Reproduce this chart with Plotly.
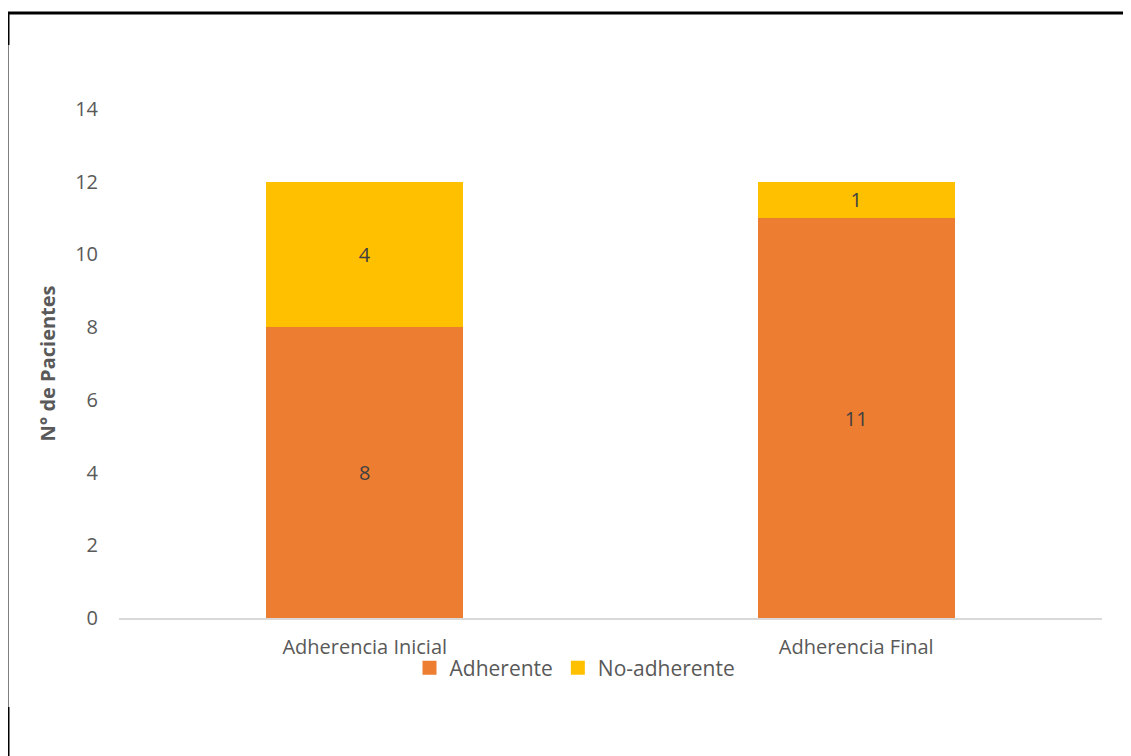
import plotly.graph_objects as go

categories = ["Adherencia Inicial", "Adherencia Final"]
adherente = [8, 11]
no_adherente = [4, 1]
y_ticks = [0, 2, 4, 6, 8, 10, 12, 14]

OFF = 8  # page body margin
W, H = 1131 - OFF, 756 - OFF
L, R, T, B = 119 - OFF, 29, 109 - OFF, 138
pw, ph = W - L - R, H - T - B

def px(x):
    return (x - OFF - L) / pw

def py(y):
    return (H - B - (y - OFF)) / ph

font_family = "Open Sans, Liberation Sans, sans-serif"
fig = go.Figure()
fig.add_trace(go.Bar(
    name="Adherente", x=categories, y=adherente, marker_color="#ED7D31",
    text=adherente, textposition="inside", insidetextanchor="middle",
    textfont=dict(color="#404040", size=20), marker_line_width=0, showlegend=False,
))
fig.add_trace(go.Bar(
    name="No-adherente", x=categories, y=no_adherente, marker_color="#FFC000",
    text=no_adherente, textposition="inside", insidetextanchor="middle",
    textfont=dict(color="#404040", size=20), marker_line_width=0, showlegend=False,
))
for name, col in [("Adherente", "#ED7D31"), ("No-adherente", "#FFC000")]:
    fig.add_trace(go.Scatter(x=[None], y=[None], mode="markers", name=name,
                             marker=dict(symbol="square", size=14, color=col)))

fig.update_layout(
    barmode="stack", bargap=0.6,
    width=W, height=H,
    margin=dict(l=L, r=R, t=T, b=B, autoexpand=False),
    paper_bgcolor="white", plot_bgcolor="white",
    font=dict(family=font_family, color="#595959", size=20),
    showlegend=True,
    legend=dict(orientation="h", x=px(575), xanchor="center", y=py(668), yanchor="middle",
                font=dict(size=21, color="#595959"), traceorder="normal",
                itemwidth=30, bgcolor="rgba(0,0,0,0)"),
)
fig.update_xaxes(showline=True, linecolor="#D9D9D9", linewidth=1.5, showgrid=False,
                 ticks="", ticklabelstandoff=10, tickfont=dict(size=20, color="#595959"))
fig.update_yaxes(range=[0, 14], tickvals=y_ticks, showgrid=False, zeroline=False,
                 showline=False, ticks="", ticklen=0, tickwidth=0, ticklabelstandoff=20,
                 tickfont=dict(size=20, color="#595959"),
                 title=dict(text="<b>N° de Pacientes</b>", font=dict(size=20, color="#595959"), standoff=14))

# frame lines around the image
lines = [
    (8, 13, 1131, 13, 3),
    (8, 13, 8, 45, 3),
    (8, 45, 8, 707, 1),
    (8, 707, 8, 756, 3),
]
for x0, y0, x1, y1, w in lines:
    fig.add_shape(type="line", xref="paper", yref="paper",
                  x0=px(x0), y0=py(y0), x1=px(x1), y1=py(y1),
                  line=dict(color="black", width=w), layer="above")

fig.write_html("out.html")
